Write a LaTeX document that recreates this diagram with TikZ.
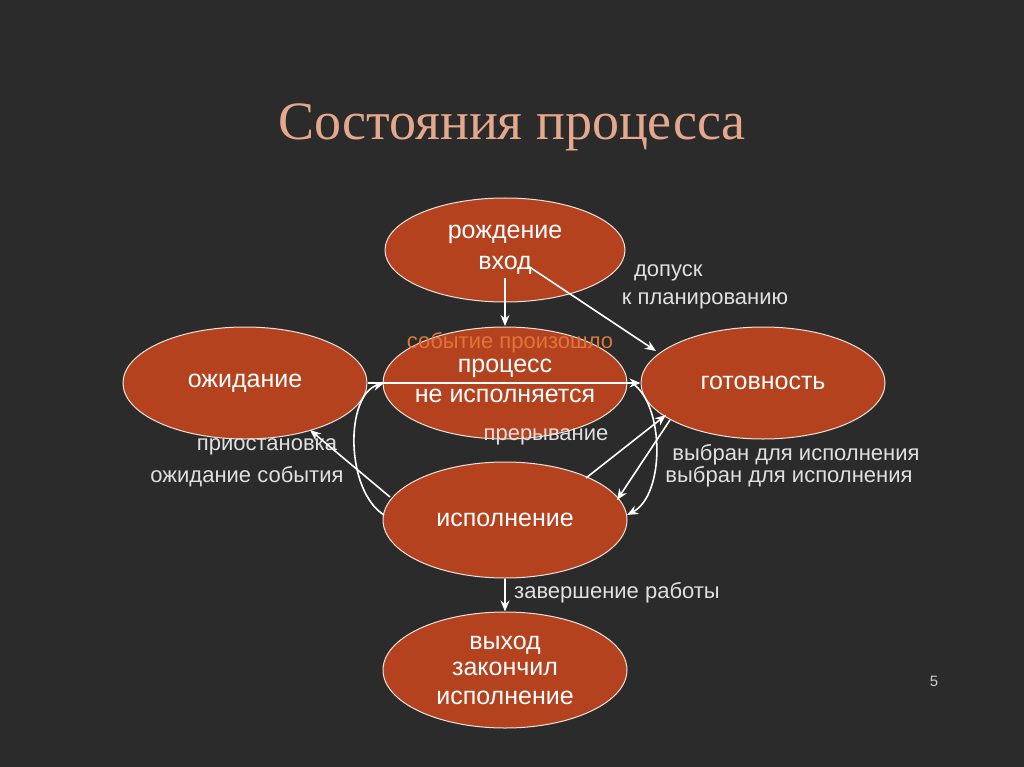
\documentclass[tikz,border=0pt]{standalone}
\usepackage{fontspec}
\setmainfont{Liberation Sans}
\newfontfamily\titlefont{Liberation Serif}
\usetikzlibrary{arrows.meta,shapes.geometric}
\definecolor{bg}{HTML}{2B2B2B}
\definecolor{ell}{HTML}{B5421F}
\definecolor{ttl}{HTML}{E6A88C}
\definecolor{evt}{HTML}{E0743A}
\begin{document}
\begin{tikzpicture}[x=1pt,y=-1pt,
  st/.style={ellipse, draw=white!85!ell, line width=1pt, fill=ell, minimum width=244pt, minimum height=112pt, text=white, font=\fontsize{25}{27}\selectfont, align=center, inner sep=0pt},
  lbl/.style={text=white!88!black, font=\fontsize{22}{26}\selectfont, align=center, inner sep=0pt},
  ar/.style={draw=white, line width=1.6pt, -{Stealth[length=11pt,width=9pt]}}]
\fill[bg] (0,0) rectangle (1024,767);
\useasboundingbox (0,0) rectangle (1024,767);
\node[text=ttl, font=\titlefont\fontsize{54}{60}\selectfont] (title) at (512,127) {Состояния процесса};
\node[st, minimum width=240pt, minimum height=104pt] (born) at (505,250) {рождение\\[4pt]вход};
\node[st] (mid) at (505,383) {};
\node[st] (wait) at (245,383) {ожидание};
\node[st] (ready) at (763,383) {готовность};
\node[st, minimum height=116pt] (exec) at (505,520) {исполнение};
\node[st, minimum height=116pt] (exit) at (505,670) {выход\\[-1pt]закончил\\[2pt]исполнение};
\node[text=evt, font=\fontsize{22}{24}\selectfont] (evt) at (510,343) {событие произошло};
\node[st, draw=none, fill=none, minimum width=0pt, minimum height=0pt] (midt) at (505,381) {процесс\\[3pt]не исполняется};
\node[lbl, align=left] (l1) at (705,287) {\ \ допуск\\[2pt]к планированию};
\node[lbl] (l2) at (546,437) {прерывание};
\node[lbl] (l3) at (267,447) {приостановка};
\node[lbl] (l4) at (247,477) {ожидание события};
\node[lbl] (l5) at (796,455) {выбран для исполнения};
\node[lbl] (l6) at (789,477) {выбран для исполнения};
\node[lbl] (l7) at (617,593) {завершение работы};
\node[text=white!80!black, font=\fontsize{15}{17}\selectfont] (pg) at (934,681) {5};
\coordinate (a1) at (505,278); \coordinate (a2) at (505,326);
\draw[ar] (a1) -- (a2);
\coordinate (b1) at (528,266); \coordinate (b2) at (656,351);
\draw[ar] (b1) -- (b2);
\draw[ar] (wait.east) -- (ready.west);
\coordinate (c1) at (384,515); \coordinate (c2) at (384,383);
\draw[ar] (c1) .. controls (345,490) and (345,395) .. (c2);
\coordinate (d1) at (632,383); \coordinate (d2) at (627,515);
\draw[ar] (d1) .. controls (665,405) and (665,495) .. (d2);
\coordinate (e1) at (586,478); \coordinate (e2) at (666,415);
\draw[ar] (e1) -- (e2);
\coordinate (f1) at (670,420); \coordinate (f2) at (617,500);
\draw[ar] (f1) -- (f2);
\coordinate (g1) at (390,497); \coordinate (g2) at (310,430);
\draw[ar] (g1) -- (g2);
\draw[ar] (exec.south) -- (exit.north);
\end{tikzpicture}
\end{document}
